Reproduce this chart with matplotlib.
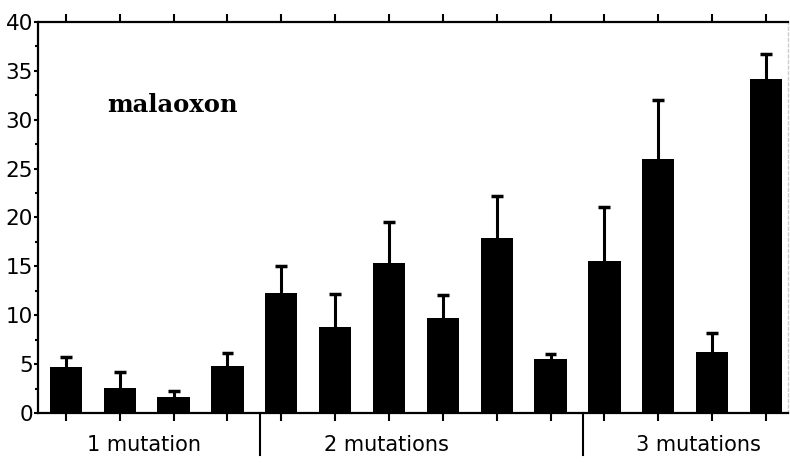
import matplotlib
matplotlib.use("Agg")
import matplotlib.pyplot as plt
import matplotlib.transforms as mtransforms
import numpy as np

values = [4.7, 2.55, 1.65, 4.8, 12.3, 8.8, 15.3, 9.7, 17.9, 5.5, 15.5, 26.0, 6.2, 34.2]
err_tops = [5.7, 4.2, 2.25, 6.1, 15.0, 12.2, 19.5, 12.1, 22.2, 6.0, 21.1, 32.0, 8.2, 36.7]
group_labels = ["1 mutation", "2 mutations", "3 mutations"]
group_label_x = [1.45, 5.95, 11.75]
separators = [3.6, 9.6]
yticks = [0, 5, 10, 15, 20, 25, 30, 35, 40]

x = np.arange(len(values))

fig = plt.figure(figsize=(7.9, 4.63), dpi=100)
ax = fig.add_axes([0.048, 0.108, 0.9495, 0.8445])

ax.bar(x, values, width=0.6, color="black", zorder=2)
ax.vlines(x, values, err_tops, color="black", lw=2.2, zorder=1)
ax.hlines(err_tops, x - 0.11, x + 0.11, color="black", lw=2.5, zorder=1)

ax.set_xlim(-0.52, 13.41)
ax.set_ylim(0, 40)
ax.set_yticks(yticks)
ax.set_yticklabels([str(t) for t in yticks], fontsize=15.5, family="DejaVu Sans")
ax.set_yticks(np.arange(2.5, 40, 5), minor=True)
ax.tick_params(axis="y", which="major", direction="out", length=3, width=1.5, pad=0.5)
ax.tick_params(axis="y", which="minor", direction="out", length=2, width=1.5)

ax.set_xticks(x)
ax.set_xticklabels([])
ax.tick_params(axis="x", which="major", direction="out", length=6, width=1.5,
               top=True, bottom=True)

for s in ["left", "top", "bottom"]:
    ax.spines[s].set_linewidth(1.6)
ax.spines["right"].set_color("#cccccc")
ax.spines["right"].set_linewidth(1.0)
ax.spines["right"].set_linestyle((0, (2, 2)))

trans = mtransforms.blended_transform_factory(ax.transData, ax.transAxes)
for sx in separators:
    ax.plot([sx, sx], [0, -0.107], color="black", lw=1.5, transform=trans, clip_on=False)
for lx, lab in zip(group_label_x, group_labels):
    ax.text(lx, -0.082, lab, transform=trans, ha="center", va="center", fontsize=15)

ax.text(0.76, 31.5, "malaoxon", ha="left", va="center", fontsize=17.5,
        fontweight="bold", family="DejaVu Serif")

fig.savefig("out.png", dpi=100)
